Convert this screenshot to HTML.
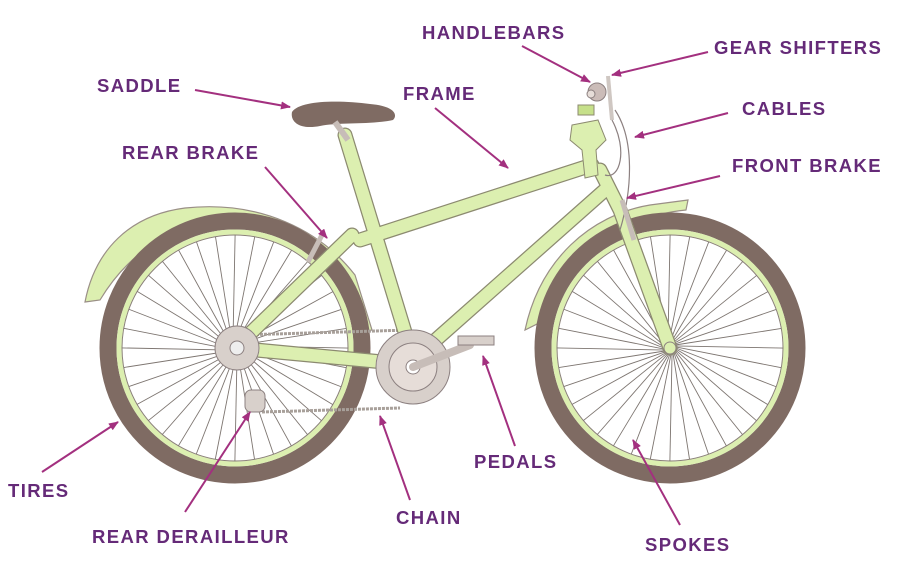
<!DOCTYPE html>
<html><head><meta charset="utf-8"><style>
html,body{margin:0;padding:0;background:#fff;width:911px;height:574px;overflow:hidden}
svg{display:block}
text{font-family:"Liberation Sans",sans-serif;font-weight:bold;font-size:18.5px;letter-spacing:1.4px;fill:#652a78}
</style></head><body>
<svg width="911" height="574" viewBox="0 0 911 574" xmlns="http://www.w3.org/2000/svg">
<defs><marker id="ah" markerWidth="10" markerHeight="8" refX="9" refY="4" orient="auto" markerUnits="userSpaceOnUse"><path d="M0,0 L10,4 L0,8 z" fill="#a3307f"/></marker></defs>
<path d="M85,302 C95,250 130,215 185,208 C260,200 320,230 355,275 L372,330 L364,332 C350,270 300,225 240,220 C180,218 130,250 100,300 Z" fill="#dcefb0" stroke="#9a8f86" stroke-width="1.2"/>
<path d="M525,330 C540,260 590,215 650,205 L688,200 L686,210 C630,215 575,250 545,320 Z" fill="#dcefb0" stroke="#9a8f86" stroke-width="1.2"/>
<g>
<circle cx="235" cy="348" r="127" fill="none" stroke="#7f6b63" stroke-width="17"/>
<circle cx="235" cy="348" r="116" fill="none" stroke="#dcefb0" stroke-width="5"/>
<circle cx="235" cy="348" r="113" fill="none" stroke="#8a8078" stroke-width="1"/>
<circle cx="670" cy="348" r="127" fill="none" stroke="#7f6b63" stroke-width="17"/>
<circle cx="670" cy="348" r="116" fill="none" stroke="#dcefb0" stroke-width="5"/>
<circle cx="670" cy="348" r="113" fill="none" stroke="#8a8078" stroke-width="1"/>
</g>
<g id="spokes" stroke="#7d7570" stroke-width="0.9"></g>
<path d="M240,335 L410,330 M262,412 L400,408" stroke="#a8a09a" stroke-width="3" stroke-dasharray="3,1" fill="none"/>
<g fill="none" stroke="#8c8a70" stroke-width="15" stroke-linecap="round">
<path d="M235,348 L415,365 M235,348 L352,235 M415,365 L345,135 M360,240 L592,165 M430,345 L605,190 M600,170 L620,210 L670,348"/>
</g>
<g fill="none" stroke="#dcefb0" stroke-width="12.5" stroke-linecap="round">
<path d="M235,348 L415,365 M235,348 L352,235 M415,365 L345,135 M360,240 L592,165 M430,345 L605,190 M600,170 L620,210 L670,348"/>
</g>
<path d="M572,125 L598,120 L606,140 L596,150 L598,175 L585,178 L582,150 L570,140 Z" fill="#dcefb0" stroke="#8c8a70"/>
<rect x="578" y="105" width="16" height="10" fill="#c6e08a" stroke="#8c8a70"/>
<circle cx="597" cy="92" r="9" fill="#cbbcb8" stroke="#8c8080"/>
<circle cx="591" cy="94" r="4" fill="#e6ddd8" stroke="#8c8080"/>
<path d="M608,76 L612,120" stroke="#cfc7c2" stroke-width="4"/>
<path d="M615,110 C635,140 632,190 620,230 M612,120 C628,150 620,180 605,175" stroke="#8c8080" stroke-width="1.2" fill="none"/>
<path d="M622,200 L634,240" stroke="#c7bdb8" stroke-width="5"/>
<path d="M322,235 L308,262" stroke="#c7bdb8" stroke-width="5"/>
<path d="M292,112 C300,100 340,100 370,104 C395,106 398,115 393,120 C370,125 340,122 320,126 C300,130 290,122 292,112 Z" fill="#7f6b63"/>
<path d="M335,122 L348,140" stroke="#c7bdb8" stroke-width="6"/>
<circle cx="237" cy="348" r="22" fill="#d8d0cb" stroke="#8c8080"/>
<circle cx="237" cy="348" r="7" fill="#eee" stroke="#8c8080"/>
<circle cx="413" cy="367" r="37" fill="#d8d0cb" stroke="#8c8080"/>
<circle cx="413" cy="367" r="24" fill="#e6ddd8" stroke="#8c8080"/>
<circle cx="413" cy="367" r="7" fill="#fff" stroke="#8c8080"/>
<path d="M413,367 L470,345" stroke="#c7bdb8" stroke-width="8" stroke-linecap="round"/>
<rect x="458" y="336" width="36" height="9" fill="#d8d0cb" stroke="#8c8080"/>
<rect x="245" y="390" width="20" height="22" rx="6" fill="#d8d0cb" stroke="#8c8080"/>
<circle cx="670" cy="348" r="6" fill="#dcefb0" stroke="#8c8080"/>
<g stroke="#a3307f" stroke-width="2" marker-end="url(#ah)">
<line x1="195" y1="90" x2="290" y2="107"/>
<line x1="435" y1="108" x2="508" y2="168"/>
<line x1="522" y1="46" x2="590" y2="82"/>
<line x1="708" y1="52" x2="612" y2="75"/>
<line x1="728" y1="113" x2="635" y2="137"/>
<line x1="720" y1="176" x2="627" y2="198"/>
<line x1="265" y1="167" x2="327" y2="238"/>
<line x1="42" y1="472" x2="118" y2="422"/>
<line x1="185" y1="512" x2="250" y2="412"/>
<line x1="410" y1="500" x2="380" y2="416"/>
<line x1="515" y1="446" x2="483" y2="356"/>
<line x1="680" y1="525" x2="633" y2="440"/>
</g>
<text x="422" y="39">HANDLEBARS</text>
<text x="714" y="54">GEAR SHIFTERS</text>
<text x="97" y="92">SADDLE</text>
<text x="403" y="100">FRAME</text>
<text x="742" y="115">CABLES</text>
<text x="122" y="159">REAR BRAKE</text>
<text x="732" y="172">FRONT BRAKE</text>
<text x="8" y="497">TIRES</text>
<text x="92" y="543">REAR DERAILLEUR</text>
<text x="396" y="524">CHAIN</text>
<text x="474" y="468">PEDALS</text>
<text x="645" y="551">SPOKES</text>
</svg>
<script>
var g=document.getElementById('spokes'),s='';
[[235,348],[670,348]].forEach(function(c){for(var i=0;i<36;i++){var a=i*Math.PI*2/36,b=a+0.35;
s+='<line x1="'+(c[0]+6*Math.cos(a))+'" y1="'+(c[1]+6*Math.sin(a))+'" x2="'+(c[0]+113*Math.cos(b))+'" y2="'+(c[1]+113*Math.sin(b))+'"/>';}});
g.innerHTML=s;
</script>
</body></html>
